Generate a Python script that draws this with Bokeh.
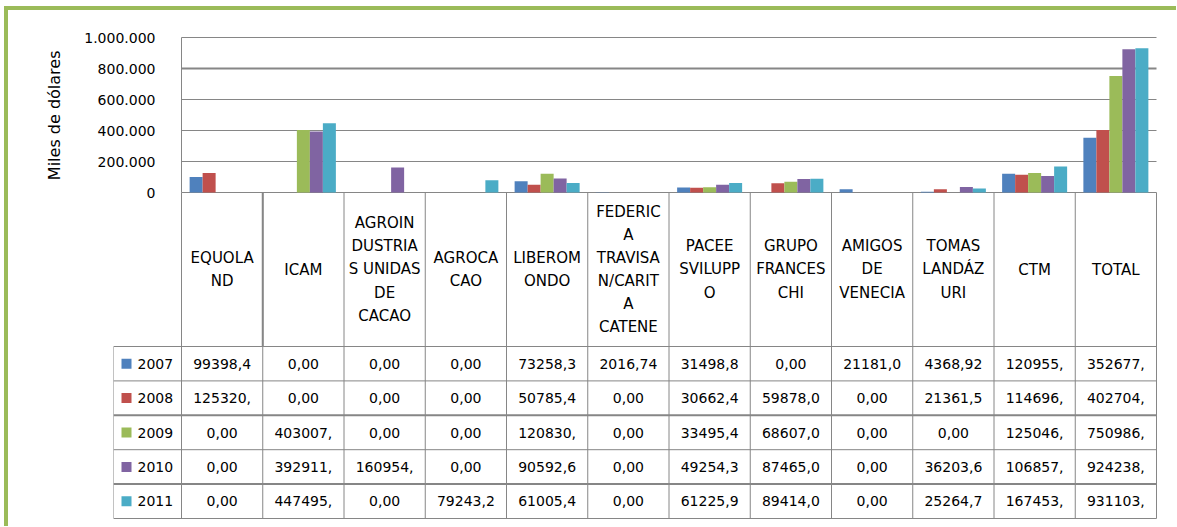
from bokeh.plotting import figure
from bokeh.layouts import column
from bokeh.models import Range1d, FixedTicker, CustomJSTickFormatter, ColumnDataSource, Title
from bokeh.core.properties import value
from bokeh.embed import file_html
from bokeh.resources import INLINE

# ---------------- data ----------------
categories = ["EQUOLAND", "ICAM", "AGROINDUSTRIAS UNIDAS DE CACAO", "AGROCACAO",
              "LIBEROMONDO", "FEDERICA TRAVISAN/CARITA CATENE", "PACEE SVILUPPO",
              "GRUPO FRANCESCHI", "AMIGOS DE VENECIA", "TOMAS LANDÁZURI", "CTM", "TOTAL"]
header_labels = ["EQUOLA\nND", "ICAM", "AGROIN\nDUSTRIA\nS UNIDAS\nDE\nCACAO", "AGROCA\nCAO",
                 "LIBEROM\nONDO", "FEDERIC\nA\nTRAVISA\nN/CARIT\nA\nCATENE", "PACEE\nSVILUPP\nO",
                 "GRUPO\nFRANCES\nCHI", "AMIGOS\nDE\nVENECIA", "TOMAS\nLANDÁZ\nURI", "CTM", "TOTAL"]
years = ["2007", "2008", "2009", "2010", "2011"]
colors = ["#4F81BD", "#C0504D", "#9BBB59", "#8064A2", "#4BACC6"]

v2007 = [99398.4, 0, 0, 0, 73258.3, 2016.74, 31498.8, 0, 21181.0, 4368.92, 120955, 352677]
v2008 = [125320, 0, 0, 0, 50785.4, 0, 30662.4, 59878.0, 0, 21361.5, 114696, 402704]
v2009 = [0, 403007, 0, 0, 120830, 0, 33495.4, 68607.0, 0, 0, 125046, 750986]
v2010 = [0, 392911, 160954, 0, 90592.6, 0, 49254.3, 87465.0, 0, 36203.6, 106857, 924238]
v2011 = [0, 447495, 0, 79243.2, 61005.4, 0, 61225.9, 89414.0, 0, 25264.7, 167453, 931103]
series = [v2007, v2008, v2009, v2010, v2011]

y_ticks = [0, 200000, 400000, 600000, 800000, 1000000]
y_label = "Miles de dólares"

# ---------------- style / layout (pixel geometry of the reference) ----------------
FONT = "DejaVu Sans"
GRID = "#868686"
GREEN = "#9BBB59"
W, H = 1161, 512            # figure occupies page x 8..1169, y 10..522
FRAME_L, FRAME_R, FRAME_T, FRAME_B = 113, 1157, 35, 522
X0_PX, COL_W = 181, 81.25   # left edge of first category column, column width
Y0_PX, PX_PER_UNIT = 192, 155 / 1e6   # baseline (value 0) and scale


def tx(px):
    return (px - X0_PX) / COL_W


def ty(px):
    return (Y0_PX - px) / PX_PER_UNIT


n = len(categories)
p = figure(width=W, height=H,
           x_range=Range1d(tx(FRAME_L), tx(FRAME_R)),
           y_range=Range1d(ty(FRAME_B), ty(FRAME_T)),
           output_backend="svg", toolbar_location=None, x_axis_location=None,
           min_border_left=FRAME_L - 8, min_border_right=1169 - FRAME_R,
           min_border_top=FRAME_T - 10, min_border_bottom=0)
p.outline_line_color = None
p.grid.visible = False
p.background_fill_color = "white"
p.border_fill_color = "white"

ya = p.yaxis[0]
ya.ticker = FixedTicker(ticks=y_ticks)
ya.bounds = (y_ticks[0], y_ticks[-1])
ya.formatter = CustomJSTickFormatter(
    code="return Math.round(tick).toString().replace(/\\B(?=(\\d{3})+(?!\\d))/g, '.');")
ya.major_label_text_font = FONT
ya.major_label_text_font_size = "14px"
ya.major_label_text_color = "#000000"
ya.major_label_standoff = -(155 - FRAME_L)
ya.major_tick_out = 0
ya.major_tick_in = 0
ya.minor_tick_out = 0
ya.minor_tick_in = 0
ya.axis_line_color = None

# y-axis title in the left panel, shifted to sit beside the value axis only
p.add_layout(Title(text=y_label, align="right", offset=15, standoff=35, text_font=FONT,
                   text_font_size="16px", text_font_style="normal", text_color="#000000"),
             "left")

# horizontal gridlines across the category area
p.segment(x0=[0] * len(y_ticks), y0=y_ticks, x1=[n] * len(y_ticks), y1=y_ticks,
          line_color=GRID, line_width=[2 if t == 800000 else 1 for t in y_ticks])

# bars
idx = list(range(n))
offsets = [-0.32, -0.16, 0.0, 0.16, 0.32]
for y, c, off, s in zip(years, colors, offsets, series):
    src = ColumnDataSource(dict(x=[i + 0.5 + off for i in idx], top=s))
    p.vbar(x="x", top="top", width=0.16, source=src, fill_color=c, line_color=None)

# ---------------- data table ----------------
ry_px = [346 + j * 34.4 for j in range(len(years) + 1)]
ry = [ty(v) for v in ry_px]
row_c = [ty((ry_px[j] + ry_px[j + 1]) / 2) for j in range(len(years))]
bx = list(range(n + 1))
centers = [i + 0.5 for i in idx]

# vertical lines (plot-area left edge continues into the table)
p.segment(x0=[0], y0=[y_ticks[-1]], x1=[0], y1=[0], line_color=GRID, line_width=1)
p.segment(x0=bx, y0=[0] * len(bx), x1=bx, y1=[ry[-1]] * len(bx), line_color=GRID, line_width=1)
p.segment(x0=[1], y0=[0], x1=[1], y1=[ry[0]], line_color=GRID, line_width=2)
p.segment(x0=[tx(113)], y0=[ry[0]], x1=[tx(113)], y1=[ry[-1]], line_color=GRID, line_width=1)
# horizontal lines
p.segment(x0=[tx(113)] * len(ry), y0=ry, x1=[n] * len(ry), y1=ry, line_color=GRID,
          line_width=[1, 1, 2, 1, 2, 1])

p.text(x=centers, y=[ty((Y0_PX + ry_px[0]) / 2)] * n, text=header_labels, text_align="center",
       text_baseline="middle", text_font=value(FONT), text_font_size="15px",
       text_line_height=1.28, text_color="#000000")


def fmt(v):
    return ("%.2f" % v).replace(".", ",")[:7]


for j, s in enumerate(series):
    p.text(x=centers, y=[row_c[j]] * n, text=[fmt(v) for v in s], text_align="center",
           text_baseline="middle", text_font=value(FONT), text_font_size="14px",
           text_color="#000000")

p.rect(x=[tx(126)] * len(years), y=row_c, width=10, height=10, width_units="screen",
       height_units="screen", fill_color=colors, line_color=None)
p.text(x=[tx(137)] * len(years), y=row_c, text=years, text_align="left", text_baseline="middle",
       text_font=value(FONT), text_font_size="14px", text_color="#000000")

root = column(p, spacing=0,
              styles={"border-left": "4px solid " + GREEN, "border-top": "4px solid " + GREEN,
                      "margin-left": "4px", "margin-top": "6px", "padding-right": "7px",
                      "padding-bottom": "4px"})

open("out.html", "w").write(file_html(root, INLINE))
